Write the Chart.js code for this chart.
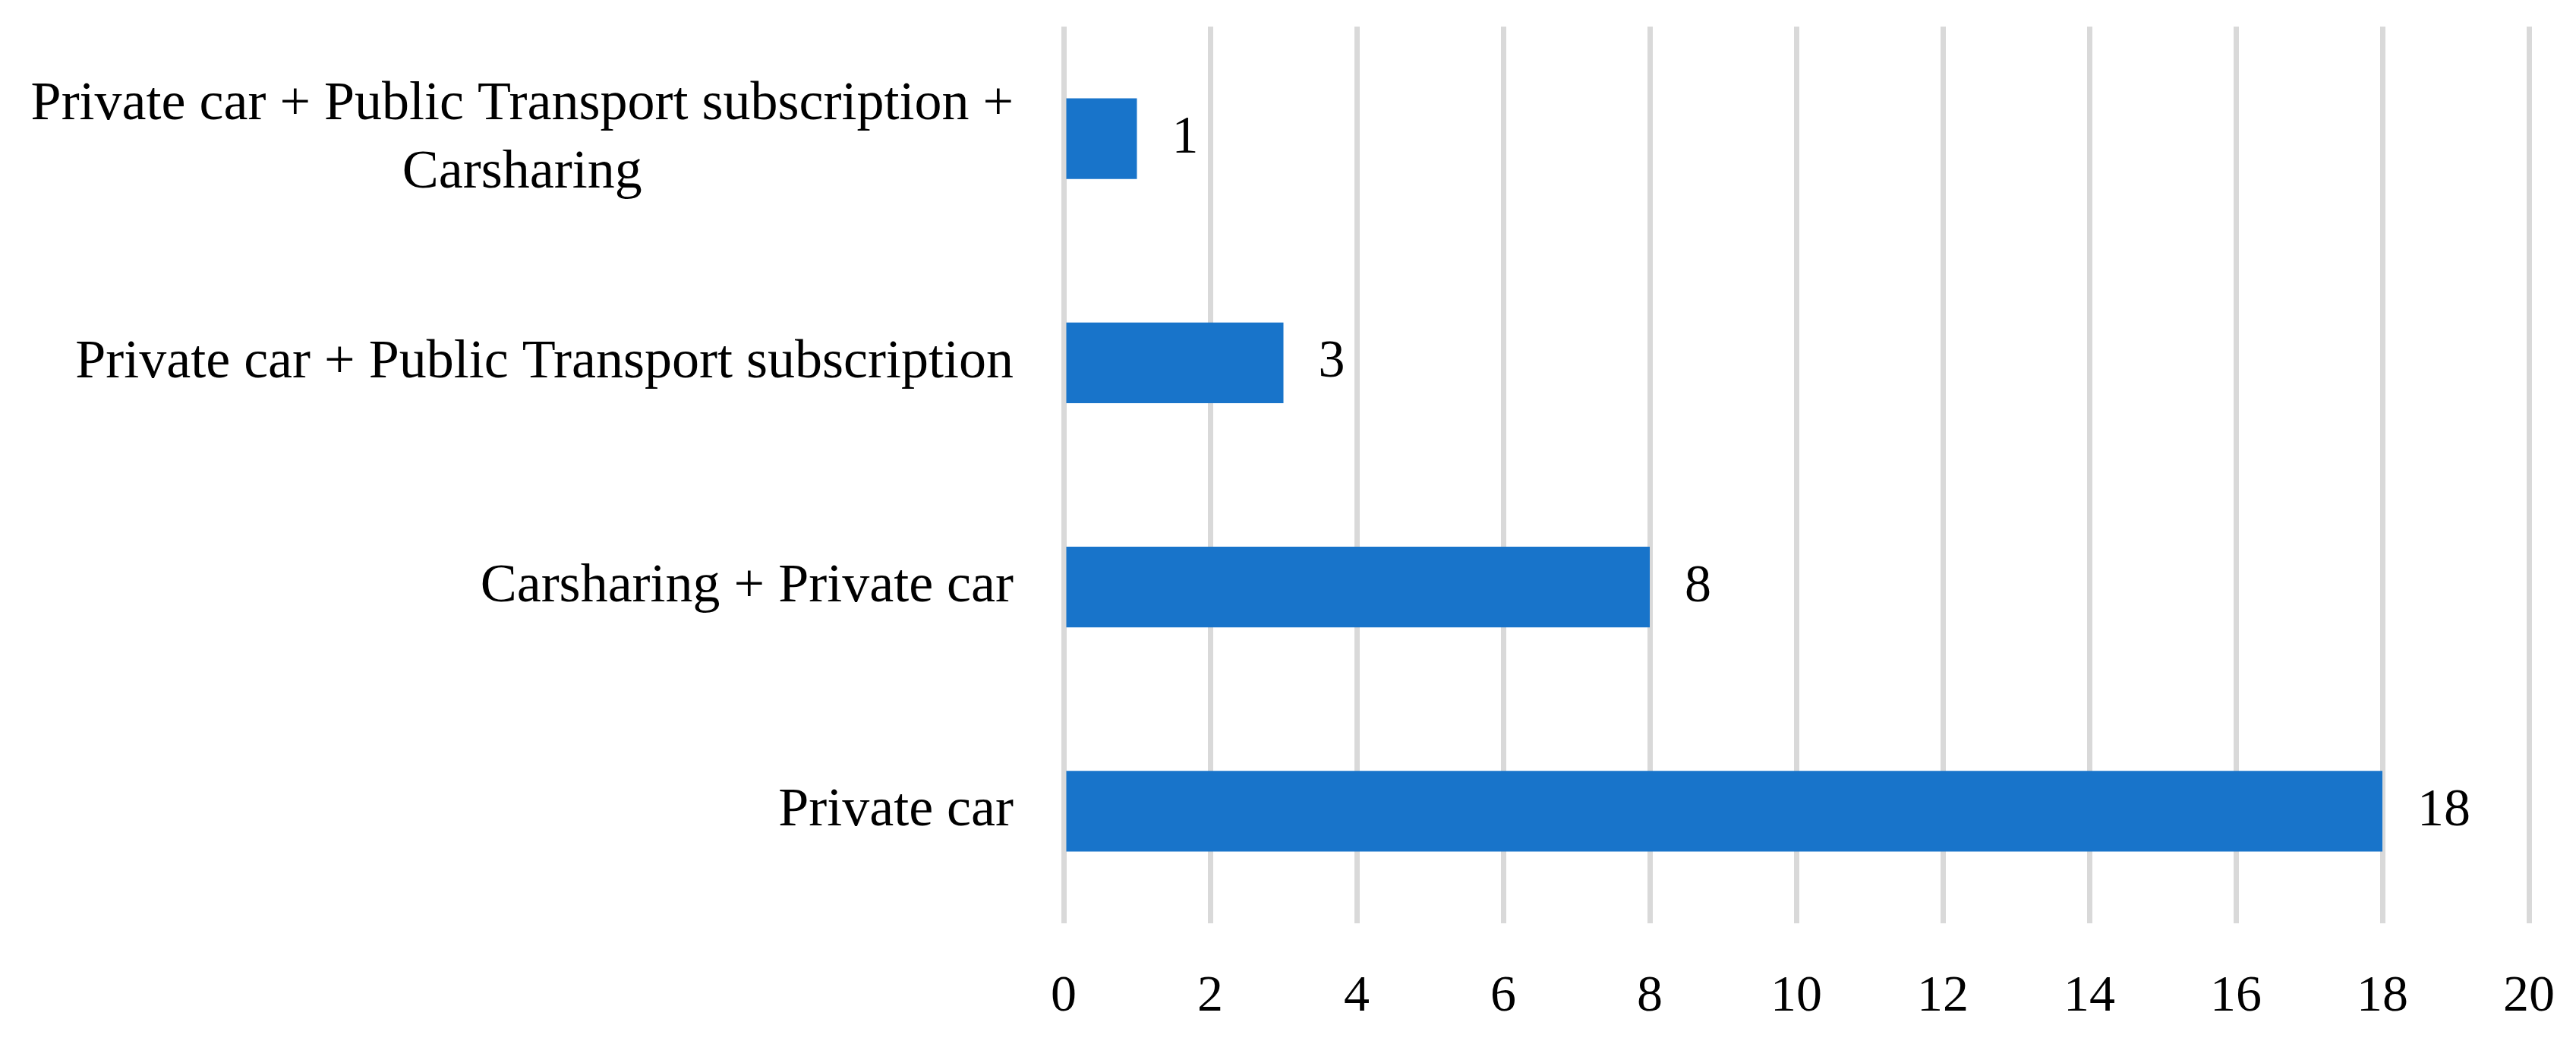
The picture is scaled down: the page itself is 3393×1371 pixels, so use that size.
<!DOCTYPE html>
<html>
<head>
<meta charset="utf-8">
<script src="https://cdn.jsdelivr.net/npm/chart.js@4/dist/chart.umd.min.js"></script>
<style>
    html, body { margin: 0; padding: 0; background: #ffffff; }
    canvas { display: block; }
</style>
</head>
<body>
<canvas id="combosChart" width="3393" height="1371"></canvas>
<script>
// Data (top to bottom)
const categories = [
    ['Private car + Public Transport subscription +', 'Carsharing'],
    'Private car + Public Transport subscription',
    'Carsharing + Private car',
    'Private car'
];
const counts = [1, 3, 8, 18];
const xTicks = [0, 2, 4, 6, 8, 10, 12, 14, 16, 18, 20];

const FONT = "'Liberation Serif', 'Times New Roman', serif";
const BAR_COLOR = '#1874CA';

// Category labels: right-aligned, wrapped lines centred on each other
const categoryLabels = {
    id: 'categoryLabels',
    afterDraw(chart) {
        const ctx = chart.ctx;
        const yScale = chart.scales.y;
        const right = chart.chartArea.left - 66;
        const lineHeight = 90;
        ctx.save();
        ctx.font = '72px ' + FONT;
        ctx.fillStyle = '#000000';
        ctx.textBaseline = 'middle';
        categories.forEach((label, i) => {
            const lines = Array.isArray(label) ? label : [label];
            const y = yScale.getPixelForValue(i);
            const widest = Math.max(...lines.map(l => ctx.measureText(l).width));
            const cx = right - widest / 2;
            const y0 = y - (lines.length - 1) * lineHeight / 2;
            ctx.textAlign = 'center';
            lines.forEach((line, j) => ctx.fillText(line, cx, y0 + j * lineHeight));
        });
        ctx.restore();
    }
};

// Value labels to the right of each bar
const valueLabels = {
    id: 'valueLabels',
    afterDatasetsDraw(chart) {
        const ctx = chart.ctx;
        const meta = chart.getDatasetMeta(0);
        ctx.save();
        ctx.font = '70px ' + FONT;
        ctx.fillStyle = '#000000';
        ctx.textAlign = 'left';
        ctx.textBaseline = 'middle';
        meta.data.forEach((bar, i) => {
            ctx.fillText(String(counts[i]), bar.x + 46, bar.y);
        });
        ctx.restore();
    }
};

const ctx = document.getElementById('combosChart').getContext('2d');
new Chart(ctx, {
    type: 'bar',
    data: {
        labels: categories,
        datasets: [{
            data: counts,
            backgroundColor: BAR_COLOR,
            borderWidth: 0,
            barPercentage: 0.36,
            categoryPercentage: 1
        }]
    },
    options: {
        indexAxis: 'y',
        responsive: false,
        animation: false,
        layout: {
            padding: { top: 35, right: 62, left: 0, bottom: 0 }
        },
        plugins: {
            legend: { display: false },
            tooltip: { enabled: false }
        },
        scales: {
            x: {
                min: 0,
                max: 20,
                afterFit: scale => {
                    scale.height = 155;
                    scale.paddingLeft = 0;
                    scale.paddingRight = 0;
                },
                afterBuildTicks: scale => {
                    scale.ticks = xTicks.map(v => ({ value: v }));
                },
                grid: {
                    color: '#D9D9D9',
                    lineWidth: 7,
                    drawTicks: false
                },
                border: { display: false },
                ticks: {
                    color: '#000000',
                    padding: 56,
                    maxRotation: 0,
                    font: { family: FONT, size: 68 }
                }
            },
            y: {
                afterFit: scale => { scale.width = 1401; },
                grid: { display: false },
                border: { display: false },
                ticks: { display: false }
            }
        }
    },
    plugins: [categoryLabels, valueLabels]
});
</script>
</body>
</html>
